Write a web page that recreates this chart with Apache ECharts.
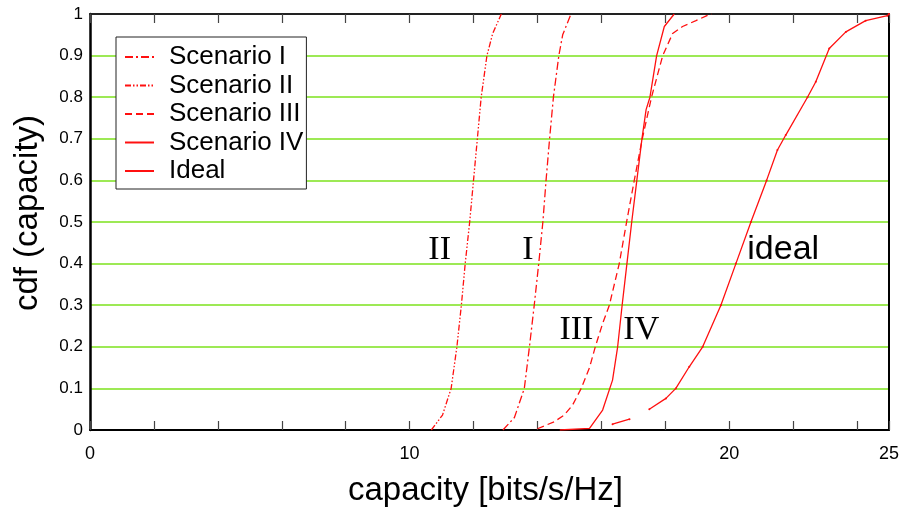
<!DOCTYPE html>
<html>
<head>
<meta charset="utf-8">
<script src="https://cdn.jsdelivr.net/npm/echarts@6/dist/echarts.min.js"></script>
<style>
html, body { margin: 0; padding: 0; background: #fff; }
#chart { width: 902px; height: 516px; }
</style>
</head>
<body>
<div id="chart"></div>
<script>
// 数据: [capacity, cdf]
var scenarioI = [[12.92, 0], [13.28, 0.03], [13.59, 0.1], [13.75, 0.2], [13.9, 0.3], [14.04, 0.4], [14.17, 0.5],
    [14.27, 0.6], [14.38, 0.7], [14.5, 0.8], [14.67, 0.9], [14.79, 0.95], [15.05, 1]];
var scenarioII = [[10.68, 0], [11.03, 0.036], [11.3, 0.1], [11.48, 0.2], [11.62, 0.3], [11.74, 0.4], [11.88, 0.5],
    [12.0, 0.6], [12.12, 0.7], [12.24, 0.8], [12.42, 0.9], [12.6, 0.953], [12.87, 1]];
var scenarioIII = [[14.0, 0.003], [14.53, 0.02], [14.84, 0.036], [15.1, 0.06], [15.37, 0.1], [15.63, 0.15], [15.81, 0.2],
    [16.04, 0.256], [16.25, 0.3], [16.56, 0.4], [16.79, 0.5], [17.03, 0.6], [17.28, 0.7], [17.57, 0.8], [17.92, 0.9],
    [18.23, 0.953], [18.54, 0.97], [18.96, 0.984], [19.27, 0.995], [19.45, 1]];
var scenarioIV = [[14.7, 0], [15.63, 0.004], [16.04, 0.048], [16.35, 0.12], [16.51, 0.2], [16.65, 0.3], [16.8, 0.4],
    [16.95, 0.5], [17.11, 0.6], [17.27, 0.7], [17.4, 0.77], [17.52, 0.8], [17.73, 0.9], [17.97, 0.97], [18.28, 1]];
var ideal = [[16.35, 0.014], [16.88, 0.026], ['-', '-'], [17.5, 0.05], [18.02, 0.076], [18.33, 0.1], [18.75, 0.152],
    [19.17, 0.2], [19.74, 0.3], [20.21, 0.4], [20.68, 0.5], [21.17, 0.6], [21.51, 0.673], [21.77, 0.709], [22.45, 0.8],
    [22.71, 0.837], [23.13, 0.917], [23.65, 0.957], [24.27, 0.984], [24.95, 0.996], [25, 1]];

var seriesNames = ['Scenario I', 'Scenario II', 'Scenario III', 'Scenario IV', 'Ideal'];
var xLabels = [0, 10, 20, 25];
// 曲线旁的标注
var notes = [
    {name: 'II', value: [10.94, 0.433], serif: true},
    {name: 'I', value: [13.7, 0.433], serif: true},
    {name: 'III', value: [15.22, 0.24], serif: true},
    {name: 'IV', value: [17.25, 0.24], serif: true},
    {name: 'ideal', value: [21.69, 0.433], serif: false}
];

var red = '#ff1010';
var sans = 'Liberation Sans, Arial, sans-serif';

function lineSeries(name, data, dash, extra) {
    var s = {
        name: name,
        type: 'line',
        data: data,
        symbol: 'none',
        smooth: false,
        animation: false,
        lineStyle: {color: red, width: 1.3, type: dash},
        itemStyle: {color: red}
    };
    if (extra) {
        for (var k in extra) s[k] = extra[k];
    }
    return s;
}

var myChart = echarts.init(document.getElementById('chart'));
var option = {
    animation: false,
    grid: {left: 90, right: 12, top: 14, bottom: 86},
    legend: {
        data: seriesNames,
        orient: 'vertical',
        left: 116,
        top: 37,
        padding: [6, 3, 4, 8],
        itemWidth: 29,
        itemHeight: 14,
        itemGap: 0.5,
        backgroundColor: '#fff',
        borderColor: '#222',
        borderWidth: 1,
        // 图例里不显示圆点
        itemStyle: {color: 'rgba(0,0,0,0)', borderWidth: 0, opacity: 0},
        textStyle: {fontFamily: sans, fontSize: 26, color: '#000', lineHeight: 28, padding: [0, 0, 0, 10]}
    },
    xAxis: [
        {
            type: 'value', min: 0, max: 25, interval: 2,
            name: 'capacity [bits/s/Hz]',
            nameLocation: 'middle',
            nameGap: 44,
            nameTextStyle: {fontFamily: sans, fontSize: 33, color: '#000', padding: [0, 8, 0, 0]},
            axisLine: {show: true, lineStyle: {color: '#000', width: 2}},
            axisTick: {show: true, inside: true, length: 9, lineStyle: {color: '#444', width: 1.2}},
            axisLabel: {
                fontFamily: sans, fontSize: 18, color: '#000', margin: 15,
                showMaxLabel: true, showMinLabel: true,
                formatter: function (v) { return xLabels.indexOf(v) >= 0 ? String(v) : ''; }
            },
            splitLine: {show: false}
        },
        {
            // 顶部刻度 (标签透明)
            type: 'value', min: 0, max: 25, interval: 2, position: 'top',
            axisLine: {show: true, onZero: false, lineStyle: {color: '#222', width: 2}},
            axisTick: {show: true, inside: true, length: 9, lineStyle: {color: '#444', width: 1.2}},
            axisLabel: {show: true, inside: true, fontSize: 8, color: 'rgba(255,255,255,0)', margin: 12},
            splitLine: {show: false}
        }
    ],
    yAxis: [
        {
            type: 'value', min: 0, max: 1, interval: 0.1,
            name: 'cdf (capacity)',
            nameLocation: 'middle',
            nameGap: 46,
            nameTextStyle: {fontFamily: sans, fontSize: 33, color: '#000', padding: [0, 0, 0, 18]},
            axisLine: {show: true, lineStyle: {color: '#000', width: 2.5}},
            axisTick: {show: false},
            axisLabel: {fontFamily: sans, fontSize: 17, color: '#000', margin: 7},
            splitLine: {show: true, showMinLine: false, showMaxLine: false, lineStyle: {color: '#7de21c', width: 1.5}}
        },
        {
            type: 'value', min: 0, max: 1, interval: 0.1, position: 'right',
            axisLine: {show: true, onZero: false, lineStyle: {color: '#000', width: 2}},
            axisTick: {show: false},
            axisLabel: {show: false},
            splitLine: {show: false}
        }
    ],
    series: [
        lineSeries('Scenario I', scenarioI, [8, 3, 2, 3]),
        lineSeries('Scenario II', scenarioII, [6, 2, 1.5, 2, 1.5, 2]),
        lineSeries('Scenario III', scenarioIII, [7, 4]),
        lineSeries('Scenario IV', scenarioIV, 'solid'),
        lineSeries('Ideal', ideal, 'solid', {symbol: 'circle', symbolSize: 2, showSymbol: true}),
        {
            name: 'notes',
            type: 'scatter',
            xAxisIndex: 1,
            symbolSize: 0,
            silent: true,
            animation: false,
            itemStyle: {opacity: 1},
            data: notes.map(function (n) {
                return {
                    name: n.name,
                    value: n.value,
                    label: {
                        show: true,
                        position: 'inside',
                        formatter: '{b}',
                        color: '#000',
                        fontSize: 34,
                        fontFamily: n.serif ? 'Liberation Serif, Times New Roman, serif' : sans
                    }
                };
            })
        }
    ]
};
myChart.setOption(option);
</script>
</body>
</html>
